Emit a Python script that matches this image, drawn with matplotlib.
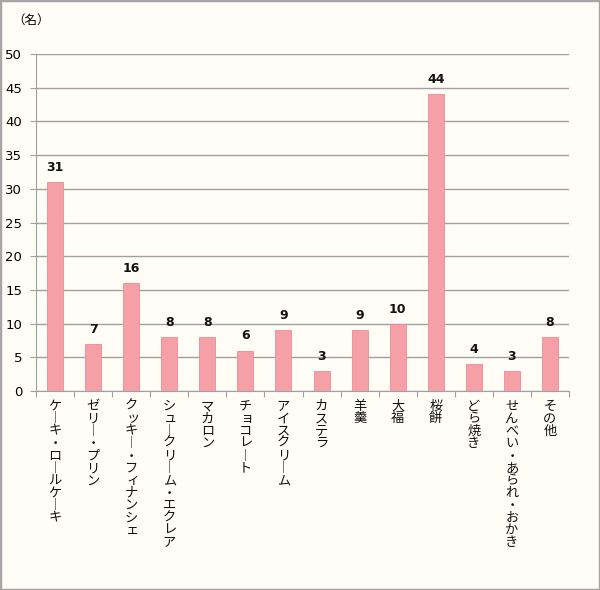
import matplotlib.pyplot as plt
from matplotlib.patches import Rectangle

plt.rcParams['font.family'] = ['Noto Sans CJK JP', 'DejaVu Sans']

categories = ["ケーキ・ロールケーキ", "ゼリー・プリン", "クッキー・フィナンシェ", "シュークリーム・エクレア",
              "マカロン", "チョコレート", "アイスクリーム", "カステラ", "羊羹", "大福", "桜餅",
              "どら焼き", "せんべい・あられ・おかき", "その他"]
values = [31, 7, 16, 8, 8, 6, 9, 3, 9, 10, 44, 4, 3, 8]
yticks = [0, 5, 10, 15, 20, 25, 30, 35, 40, 45, 50]

small_kana = "ッュィェョャァ"

bg = "#FFFDF6"
fig = plt.figure(figsize=(6, 5.9), dpi=100, facecolor=bg)
fig.patches.append(Rectangle((0, 0), 1, 1, transform=fig.transFigure, fill=False,
                             edgecolor="#A6A6A6", linewidth=2.5))
ax = fig.add_axes([36 / 600, 1 - 391 / 590, (569 - 36) / 600, (391 - 54) / 590])
ax.set_facecolor(bg)

x = list(range(len(categories)))
ax.bar(x, values, width=0.42, color="#F4A0A6", edgecolor="#F08A92", linewidth=0.6, zorder=3)
for i, v in enumerate(values):
    ax.text(i, v + 1.2, str(v), ha="center", va="bottom", fontsize=9, fontweight="bold",
            family=["DejaVu Sans"], color="#111111")

ax.set_xlim(-0.5, len(categories) - 0.5)
ax.set_ylim(0, 50)
ax.set_yticks(yticks)
ax.set_yticklabels([str(t) for t in yticks], fontsize=9.5, family=["DejaVu Sans"])
ax.yaxis.grid(True, color="#A0A0A0", linewidth=1)
ax.set_axisbelow(True)
ax.tick_params(axis="y", length=4, color="#A0A0A0", pad=6)
ax.set_xticks([i - 0.5 for i in range(len(categories) + 1)])
ax.set_xticklabels([])
ax.tick_params(axis="x", length=4, color="#A0A0A0")
for s in ["top", "right"]:
    ax.spines[s].set_visible(False)
for s in ["left", "bottom"]:
    ax.spines[s].set_color("#A0A0A0")

# vertical (tategaki) category labels, one character at a time
pitch = 12.4 * 0.72   # points per character
for i, c in enumerate(categories):
    for k, ch in enumerate(c):
        dx, dy = 0, -(15.5 * 0.72 + k * pitch)
        if ch == "ー":
            ch = "︱"
        elif ch in small_kana:
            dx = 1.2
        ax.annotate(ch, xy=(i, 0), xycoords="data", xytext=(dx, dy), textcoords="offset points",
                    ha="center", va="center", fontsize=9.5, color="#111111",
                    annotation_clip=False)

fig.text(12 / 600, 1 - 20 / 590, "（名）", fontsize=9, va="center", ha="left")

fig.savefig("out.png", facecolor=bg)
